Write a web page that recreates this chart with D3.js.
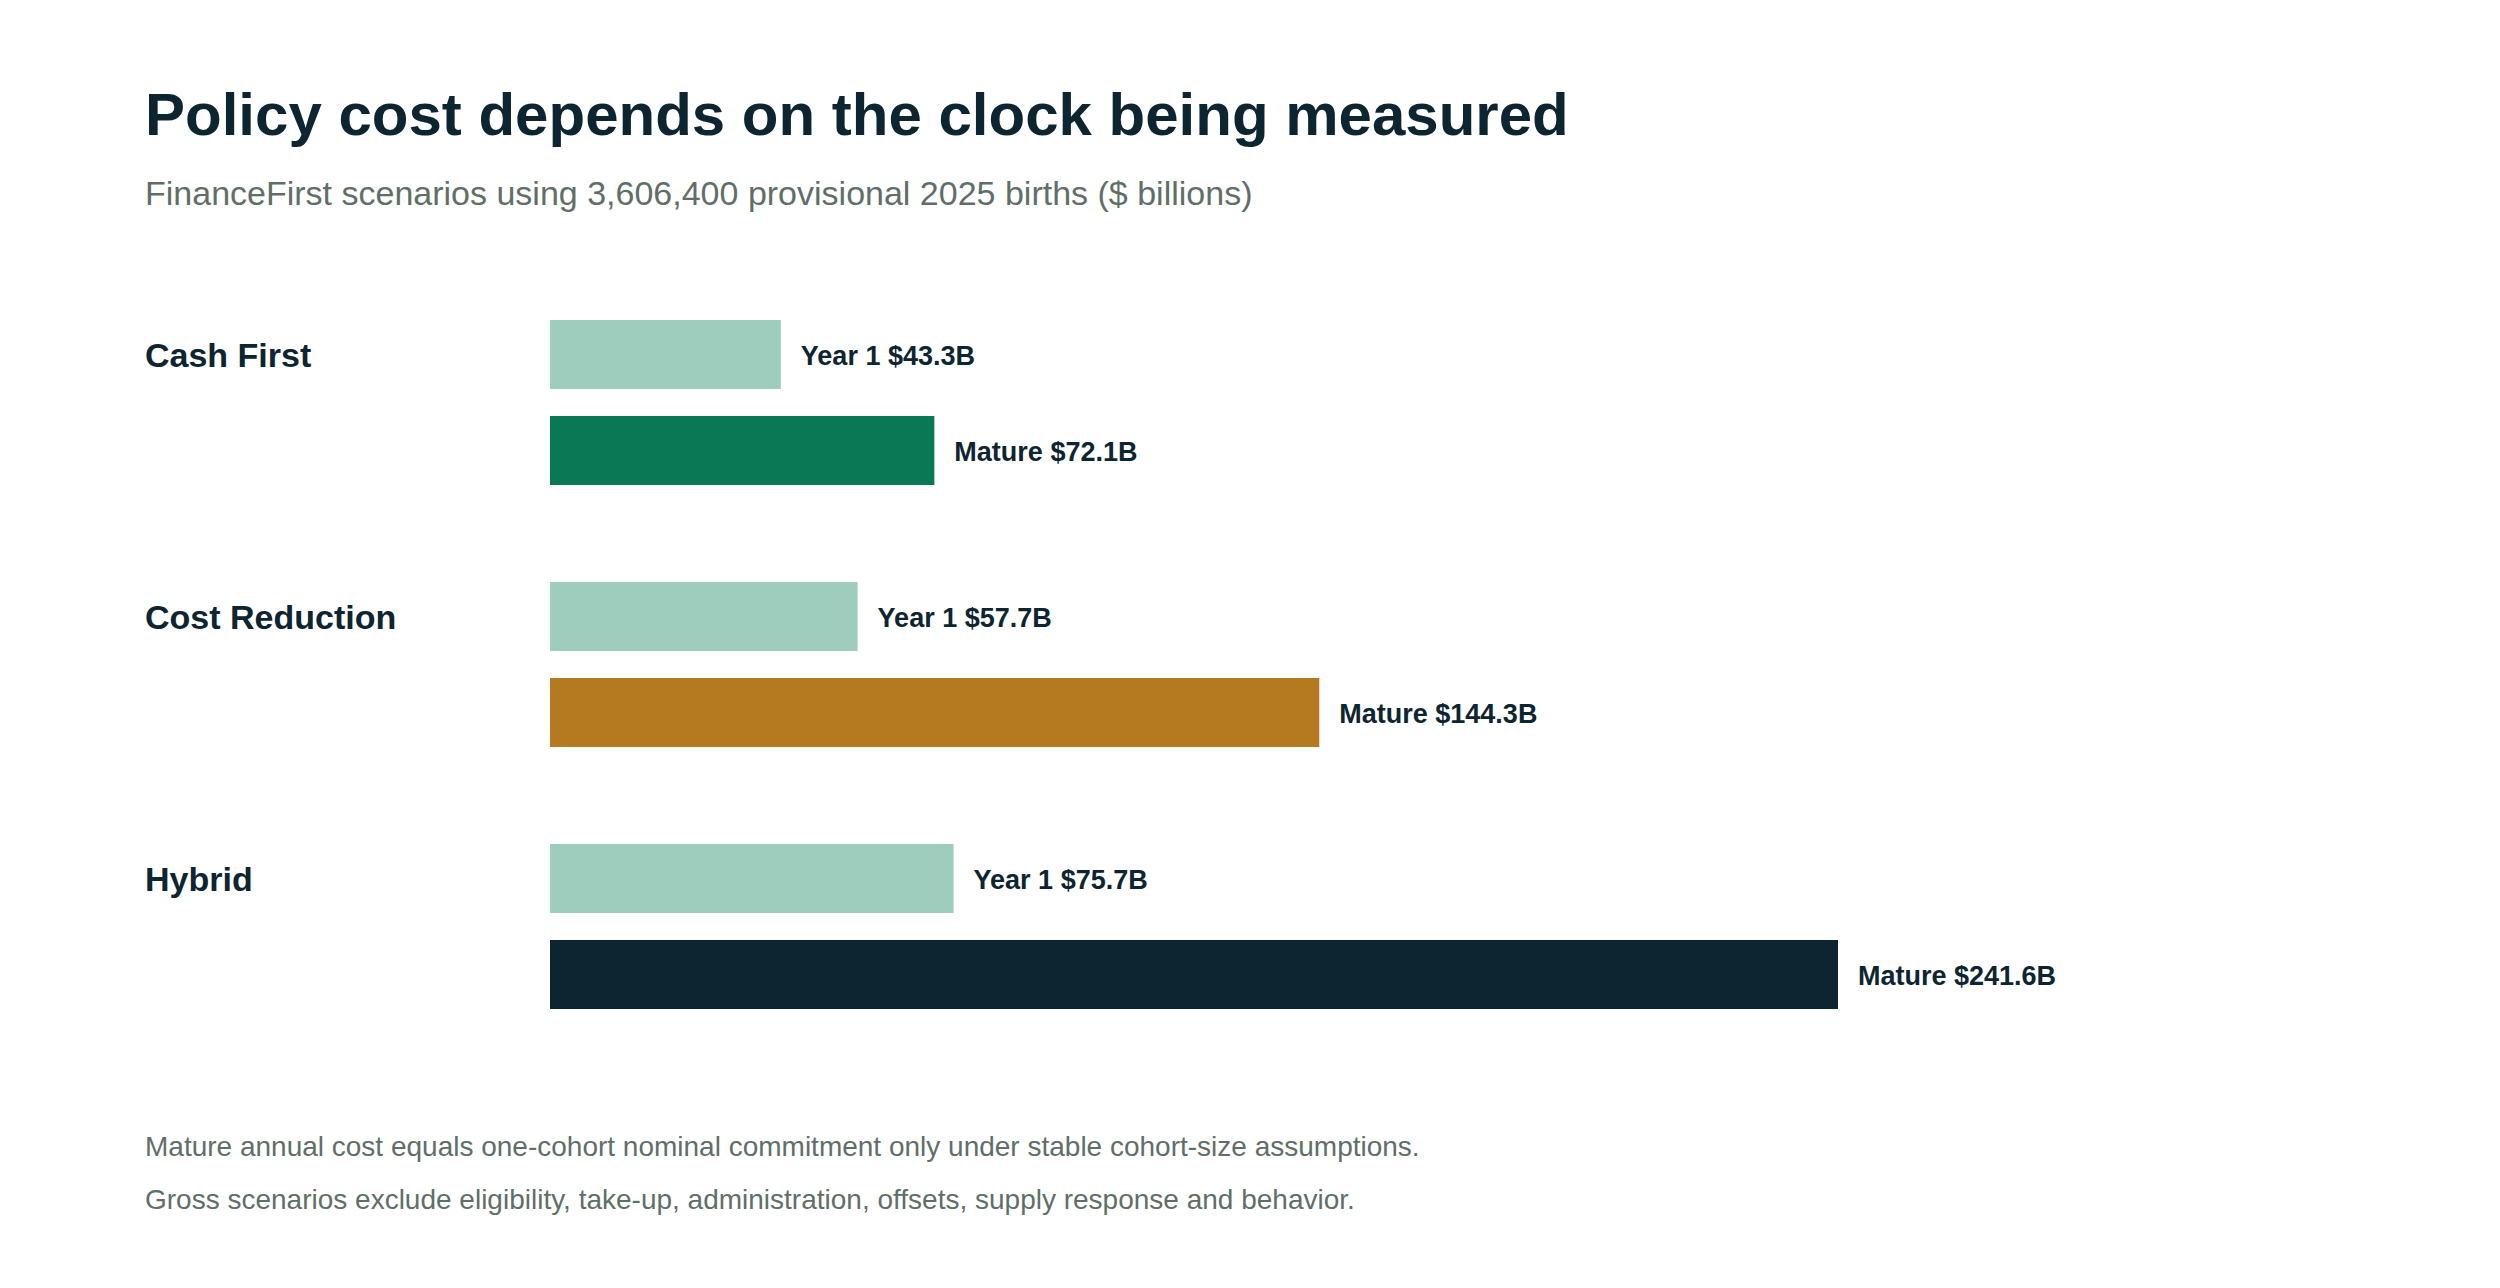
<!DOCTYPE html>
<html>
<head>
<meta charset="utf-8">
<script src="https://cdn.jsdelivr.net/npm/d3@7"></script>
<style>
  body { margin: 0; background: #fff; }
  text { font-family: "Liberation Sans", Arial, sans-serif; }
</style>
</head>
<body>
<svg id="chart" width="2500" height="1288"></svg>
<script>
const scenarios = ["Cash First", "Cost Reduction", "Hybrid"];
const year1Values = [43.3, 57.7, 75.7];
const matureValues = [72.1, 144.3, 241.6];
const matureColors = ["#0a7855", "#b57a20", "#0d2531"];
const footnotes = [
  "Mature annual cost equals one-cohort nominal commitment only under stable cohort-size assumptions.",
  "Gross scenarios exclude eligibility, take-up, administration, offsets, supply response and behavior."
];

const svg = d3.select("#chart");
const ink = "#0d2530";
const grey = "#5f6f68";

svg.append("text").attr("x", 145).attr("y", 135)
  .attr("font-size", 60).attr("font-weight", "bold").attr("fill", ink)
  .text("Policy cost depends on the clock being measured");
svg.append("text").attr("x", 145).attr("y", 205)
  .attr("font-size", 34).attr("fill", grey)
  .text("FinanceFirst scenarios using 3,606,400 provisional 2025 births ($ billions)");

const x = d3.scaleLinear().domain([0, 241.6]).range([550, 1838]);
const y = d3.scaleBand().domain(scenarios).range([320, 1106]).paddingInner(0);
const barH = 69, gap = 27;

const groups = svg.selectAll("g.scen").data(scenarios).join("g")
  .attr("class", "scen")
  .attr("transform", d => `translate(0,${y(d)})`);

groups.append("text").attr("x", 145).attr("y", barH / 2 + 12)
  .attr("font-size", 34).attr("font-weight", "bold").attr("fill", ink)
  .text(d => d);

groups.append("rect").attr("x", x(0)).attr("y", 0).attr("height", barH)
  .attr("width", (d, i) => x(year1Values[i]) - x(0)).attr("fill", "#9fcdbd");
groups.append("text").attr("x", (d, i) => x(year1Values[i]) + 20).attr("y", barH / 2 + 10)
  .attr("font-size", 27).attr("font-weight", "bold").attr("fill", ink)
  .text((d, i) => `Year 1 $${year1Values[i].toFixed(1)}B`);

groups.append("rect").attr("x", x(0)).attr("y", barH + gap).attr("height", barH)
  .attr("width", (d, i) => x(matureValues[i]) - x(0)).attr("fill", (d, i) => matureColors[i]);
groups.append("text").attr("x", (d, i) => x(matureValues[i]) + 20).attr("y", barH + gap + barH / 2 + 10)
  .attr("font-size", 27).attr("font-weight", "bold").attr("fill", ink)
  .text((d, i) => `Mature $${matureValues[i].toFixed(1)}B`);

svg.selectAll("text.foot").data(footnotes).join("text").attr("class", "foot")
  .attr("x", 145).attr("y", (d, i) => 1156 + i * 53)
  .attr("font-size", 28).attr("fill", grey).text(d => d);
</script>
</body>
</html>
